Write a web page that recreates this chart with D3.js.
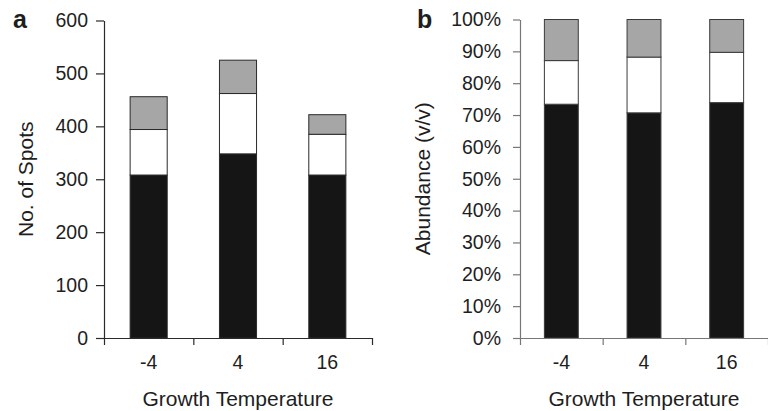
<!DOCTYPE html>
<html><head><meta charset="utf-8">
<script src="https://cdn.jsdelivr.net/npm/d3@7/dist/d3.min.js"></script>
<style>
html,body{margin:0;padding:0;background:#fff;}
svg text{font-family:"Liberation Sans",Arial,Helvetica,sans-serif;fill:#1e1e1e;}
</style></head>
<body>
<svg id="chart" width="768" height="411"></svg>
<script>
// ---- data ----
const categories = ["-4", "4", "16"];
const segmentKeys = ["black", "white", "grey"];
// panel a: number of spots (stacked segments)
const spotsBlack = [308, 348, 308];
const spotsWhite = [86, 114, 77];
const spotsGrey  = [62, 63, 37];
const spotsTicks = [0, 100, 200, 300, 400, 500, 600];
// panel b: abundance (v/v) fractions
const abundBlack = [0.734, 0.707, 0.739];
const abundWhite = [0.137, 0.175, 0.158];
const abundGrey  = [0.129, 0.118, 0.103];
const abundTicks = [0, 0.1, 0.2, 0.3, 0.4, 0.5, 0.6, 0.7, 0.8, 0.9, 1.0];

const fills = {black: "#151515", white: "#ffffff", grey: "#a6a6a6"};

const svg = d3.select("#chart");

function panel(opts) {
  const rows = categories.map((c, i) => ({
    cat: c, black: opts.vals[0][i], white: opts.vals[1][i], grey: opts.vals[2][i]
  }));
  const stacked = d3.stack().keys(segmentKeys)(rows);

  const x = d3.scaleBand().domain(categories).range([opts.x0, opts.x1])
    .paddingInner(opts.pad).paddingOuter(opts.pad / 2);
  const xb = d3.scaleLinear().domain([0, categories.length]).range([opts.x0, opts.x1]);
  const y = d3.scaleLinear().domain(opts.domain).range([opts.y0, opts.y1]);

  const g = svg.append("g");

  // bars
  g.selectAll("g.seg").data(stacked).join("g").attr("class", "seg")
    .attr("fill", d => fills[d.key])
    .selectAll("rect").data(d => d).join("rect")
    .attr("x", d => x(d.data.cat))
    .attr("width", x.bandwidth())
    .attr("y", d => y(d[1]))
    .attr("height", d => y(d[0]) - y(d[1]))
    .attr("stroke", opts.barStroke)
    .attr("stroke-width", 1);

  // y axis
  const ya = g.append("g").attr("transform", `translate(${opts.x0},0)`)
    .call(d3.axisLeft(y).tickValues(opts.ticks).tickFormat(opts.fmt)
      .tickSize(opts.tickLen).tickSizeOuter(0).tickPadding(opts.tickPad));
  ya.selectAll("path,line").attr("stroke", opts.axisColor).attr("stroke-width", 1.2);
  ya.selectAll("text").attr("font-size", 19.5).attr("fill", "#1e1e1e");

  // x axis tick marks at band boundaries
  const xa = g.append("g").attr("transform", `translate(0,${opts.y0})`)
    .call(d3.axisBottom(xb).tickValues(d3.range(categories.length + 1))
      .tickFormat("").tickSize(7).tickSizeOuter(0));
  xa.selectAll("path,line").attr("stroke", opts.axisColor).attr("stroke-width", 1.2);

  // x labels
  const xl = g.append("g").attr("transform", `translate(0,${opts.y0})`)
    .call(d3.axisBottom(x).tickSize(0).tickPadding(17));
  xl.select("path").remove();
  xl.selectAll("text").attr("font-size", 19.5).attr("fill", "#1e1e1e");

  // axis titles
  g.append("text").attr("x", (opts.x0 + opts.x1) / 2).attr("y", 406)
    .attr("text-anchor", "middle").attr("font-size", 21).text("Growth Temperature");
  g.append("text").attr("transform", `translate(${opts.ytX},${(opts.y0 + opts.y1) / 2}) rotate(-90)`)
    .attr("text-anchor", "middle").attr("font-size", 21).text(opts.yTitle);

  // panel letter
  g.append("text").attr("x", opts.letterX).attr("y", 28)
    .attr("font-size", 25).attr("font-weight", "bold").attr("fill", "#111").text(opts.letter);
}

panel({
  vals: [spotsBlack, spotsWhite, spotsGrey], domain: [0, 600], ticks: spotsTicks,
  fmt: d3.format("d"), x0: 104, x1: 372, y0: 338, y1: 20.5, pad: 0.585,
  tickLen: 8, tickPad: 8, axisColor: "#2a2a2a", barStroke: "#2a2a2a",
  yTitle: "No. of Spots", ytX: 33, letter: "a", letterX: 13
});
panel({
  vals: [abundBlack, abundWhite, abundGrey], domain: [0, 1], ticks: abundTicks,
  fmt: d3.format(".0%"), x0: 520, x1: 768, y0: 338, y1: 19.5, pad: 0.59,
  tickLen: 7, tickPad: 12, axisColor: "#777", barStroke: "#3a3a3a",
  yTitle: "Abundance (v/v)", ytX: 430, letter: "b", letterX: 417
});
</script>
</body></html>
